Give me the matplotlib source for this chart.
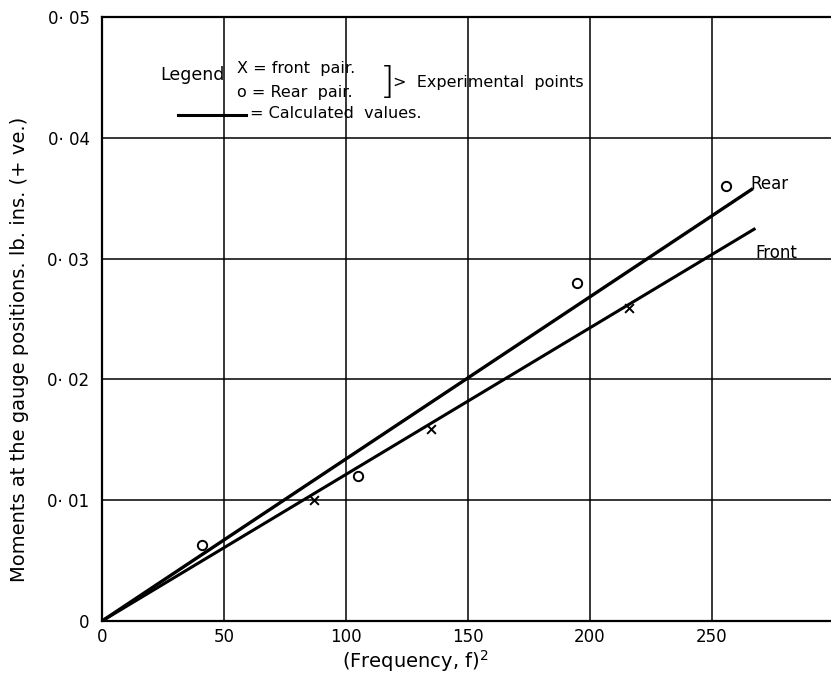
import matplotlib
matplotlib.use("Agg")
import matplotlib.pyplot as plt

# Experimental points
front_f2 = [87, 135, 216]
front_m = [0.0100, 0.0159, 0.0259]
rear_f2 = [41, 105, 195, 256]
rear_m = [0.0063, 0.0120, 0.0280, 0.0360]

# Calculated values (straight lines through origin)
rear_line_f2 = [0, 267]
rear_line_m = [0, 0.0358]
front_line_f2 = [0, 268]
front_line_m = [0, 0.0325]

x_ticks = [0, 50, 100, 150, 200, 250]
x_ticklabels = ["0", "50", "100", "150", "200", "250"]
y_ticks = [0, 0.01, 0.02, 0.03, 0.04, 0.05]
y_ticklabels = ["0", "0· 01", "0· 02", "0· 03", "0· 04", "0· 05"]

plt.rcParams['font.family'] = ['DejaVu Sans']

fig = plt.figure(figsize=(8.31, 6.80), dpi=100)
ax = fig.add_axes([102/831, 1-621/680, 1-102/831, (621-17)/680])

ax.set_xlim(0, 299)
ax.set_ylim(0, 0.05)

# grid
for xv in [50, 100, 150, 200, 250]:
    ax.axvline(xv, color='black', lw=1.1, zorder=1)
for yv in [0.01, 0.02, 0.03, 0.04]:
    ax.axhline(yv, color='black', lw=1.1, zorder=1)

ax.plot(rear_line_f2, rear_line_m, color='black', lw=2.4, solid_capstyle='butt', zorder=3)
ax.plot(front_line_f2, front_line_m, color='black', lw=2.2, solid_capstyle='butt', zorder=3)

ax.scatter(front_f2, front_m, marker='x', s=40, color='black', linewidths=1.4, zorder=4)
ax.scatter(rear_f2, rear_m, marker='o', s=45, facecolors='white', edgecolors='black', linewidths=1.4, zorder=4)

ax.text(266, 0.0362, "Rear", fontsize=12, va='center', ha='left')
ax.text(268, 0.0305, "Front", fontsize=12, va='center', ha='left')

for s in ['left', 'bottom', 'top']:
    ax.spines[s].set_linewidth(1.6)
ax.spines['right'].set_visible(False)

ax.set_xticks(x_ticks)
ax.set_xticklabels(x_ticklabels, fontsize=12)
ax.set_yticks(y_ticks)
ax.set_yticklabels(y_ticklabels, fontsize=12)
ax.tick_params(axis='x', length=0, pad=5)
ax.tick_params(axis='y', length=0, pad=9)

ax.set_xlabel("(Frequency, f)$^2$", fontsize=14)
ax.xaxis.set_label_coords(0.43, -0.045, transform=ax.transAxes)
ax.xaxis.label.set_va('top')
ax.set_ylabel("Moments at the gauge positions. lb. ins. (+ ve.)", fontsize=14, labelpad=6)
ax.yaxis.set_label_coords(-0.1, 0.45)

# hand-drawn legend
fig.text(160/831, 1-75/680, "Legend", fontsize=12.5, va='center', ha='left')
fig.text(237/831, 1-68/680, "X = front  pair.", fontsize=11.5, va='center', ha='left')
fig.text(237/831, 1-93/680, "o = Rear  pair.", fontsize=11.5, va='center', ha='left')
fig.text(380/831, 1-82/680, "]", fontsize=27, va='center', ha='left', fontweight='light')
fig.text(393/831, 1-82/680, ">  Experimental  points", fontsize=11.5, va='center', ha='left')
fig.add_artist(plt.Line2D([178/831, 246/831], [1-115/680, 1-115/680], color='black', lw=2.2))
fig.text(250/831, 1-114/680, "= Calculated  values.", fontsize=11.5, va='center', ha='left')

fig.savefig("out.png", dpi=100)
